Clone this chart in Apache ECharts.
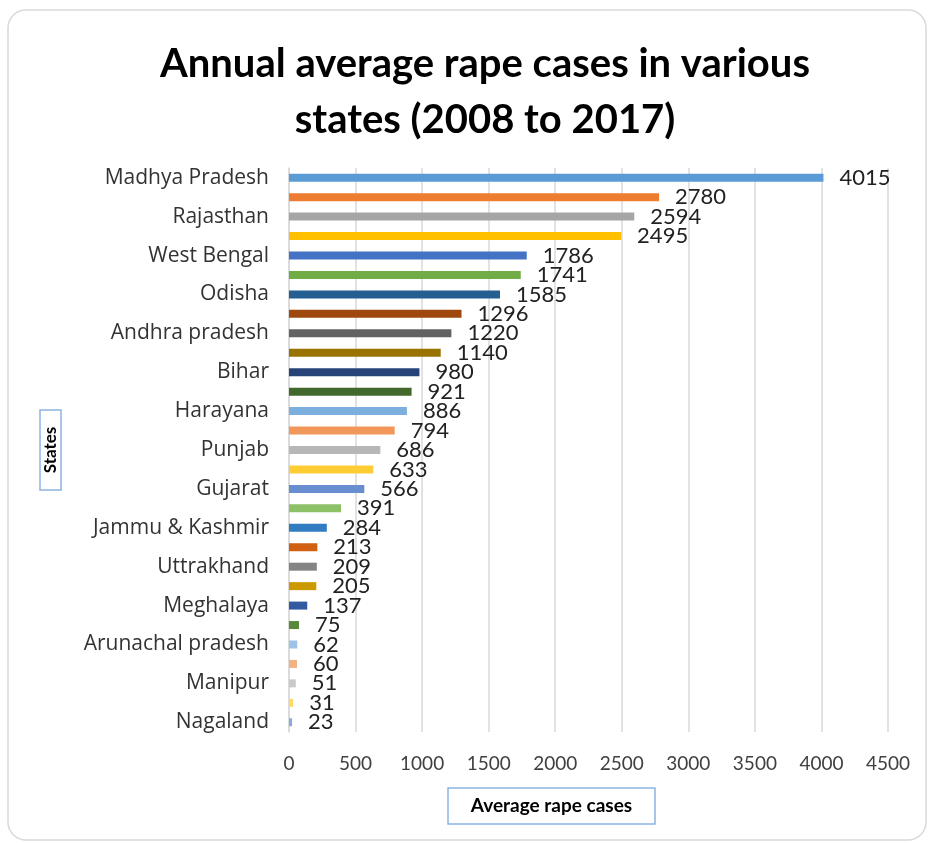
<!DOCTYPE html>
<html><head><meta charset="utf-8">
<script src="https://cdn.jsdelivr.net/npm/echarts@6/dist/echarts.min.js"></script>
<style>html,body{margin:0;padding:0;background:#fff}#c{width:932px;height:843px}</style>
</head><body><div id="c"></div>
<script>
// Categories (top to bottom). Only every other name is shown on the axis in the reference.
const states = ["Madhya Pradesh","Uttar Pradesh","Rajasthan","Maharashtra","West Bengal","Assam","Odisha","Chhattisgarh","Andhra pradesh","Kerala","Bihar","Jharkhand","Harayana","Delhi","Punjab","Karnataka","Gujarat","Tamil Nadu","Jammu & Kashmir","Himachal Pradesh","Uttrakhand","Tripura","Meghalaya","Mizoram","Arunachal pradesh","Goa","Manipur","Sikkim","Nagaland"];
const values = [4015,2780,2594,2495,1786,1741,1585,1296,1220,1140,980,921,886,794,686,633,566,391,284,213,209,205,137,75,62,60,51,31,23];
const barColors = ["#5B9BD5","#ED7D31","#A5A5A5","#FFC000","#4472C4","#70AD47","#255E91","#9E480E","#636363","#997300","#264478","#43682B","#7CAFDD","#F1975A","#B7B7B7","#FFCD33","#698ED0","#8CC168","#327DC2","#D26012","#848484","#CC9A00","#335AA1","#5A8A39","#9DC3E6","#F4B183","#C9C9C9","#FFD966","#8FAADC"];
const xTicks = {min:0, max:4500, interval:500};
const titleText = "Annual average rape cases in various\nstates (2008 to 2017)";
const xTitle = "Average rape cases";
const yTitle = "States";

const FONT = "Lato";
const chart = echarts.init(document.getElementById('c'), null, {renderer:'canvas'});
chart.setOption({
  backgroundColor:'#fff',
  animation:false,
  textStyle:{fontFamily:FONT},
  title:{text:titleText, left:480, textAlign:'center', top:31,
    textStyle:{fontFamily:FONT, fontWeight:'bold', fontSize:40, color:'#000', lineHeight:56}},
  grid:{left:289, right:44, top:168, bottom:111, containLabel:false},
  xAxis:{type:'value', min:xTicks.min, max:xTicks.max, interval:xTicks.interval,
    axisLine:{show:false}, axisTick:{show:false},
    splitLine:{show:true, lineStyle:{color:'#d9d9d9', width:1.5}},
    axisLabel:{color:'#404040', fontSize:19, fontFamily:FONT, margin:22, formatter:v=>String(v)}},
  yAxis:{type:'category', inverse:true, data:states,
    axisLine:{show:true, lineStyle:{color:'#d9d9d9', width:1.5}},
    axisTick:{show:false},
    axisLabel:{interval:1, color:'#333', fontSize:21, fontFamily:'Open Sans', margin:20, padding:[3,0,0,0]}},
  series:[{type:'bar', barWidth:8,
    data: values.map((v,i)=>({value:v, itemStyle:{color:barColors[i]}})),
    label:{show:true, position:'right', distance:16, color:'#222', fontSize:22, fontFamily:FONT}}],
  graphic:[
    {type:'rect', shape:{x:8, y:10, width:918, height:830, r:18}, style:{fill:'none', stroke:'#d9d9d9', lineWidth:1.5}, z:-1},
    {type:'rect', shape:{x:40, y:410, width:21, height:80}, style:{fill:'#fff', stroke:'#8db3e2', lineWidth:1.5}},
    {type:'text', x:50.5, y:450, rotation:Math.PI/2, style:{text:yTitle, fontFamily:FONT, fontWeight:'bold', fontSize:17, fill:'#000', align:'center', verticalAlign:'middle'}},
    {type:'rect', shape:{x:448, y:788, width:207, height:36}, style:{fill:'#fff', stroke:'#8db3e2', lineWidth:1.5}},
    {type:'text', x:551.5, y:806, style:{text:xTitle, fontFamily:FONT, fontWeight:'bold', fontSize:19, fill:'#000', align:'center', verticalAlign:'middle'}}
  ]
});
</script></body></html>
